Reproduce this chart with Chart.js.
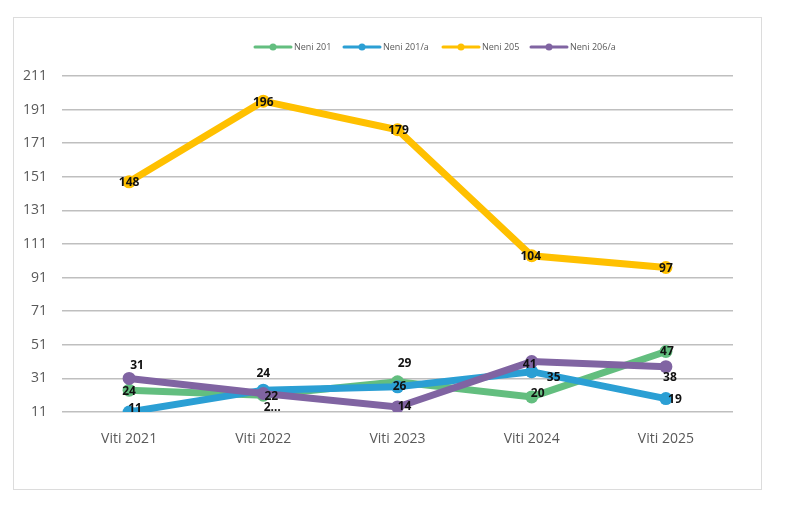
<!DOCTYPE html>
<html>
<head>
<meta charset="utf-8">
<script src="https://cdn.jsdelivr.net/npm/chart.js@4/dist/chart.umd.min.js"></script>
<style>
  html, body { margin: 0; padding: 0; background: #fff; }
  #wrap { position: relative; width: 794px; height: 506px; }
  #frame { position: absolute; left: 13px; top: 17px; width: 749px; height: 473px; border: 1px solid #dcdcdc; box-sizing: border-box; }
</style>
</head>
<body>
<div id="wrap">
  <div id="frame"></div>
  <canvas id="chart" width="794" height="506"></canvas>
</div>
<script>
const years = ['Viti 2021', 'Viti 2022', 'Viti 2023', 'Viti 2024', 'Viti 2025'];
const seriesNames = ['Neni 201', 'Neni 201/a', 'Neni 205', 'Neni 206/a'];
const neni201 = [24, 21, 29, 20, 47];
const neni201a = [11, 24, 26, 35, 19];
const neni205 = [148, 196, 179, 104, 97];
const neni206a = [31, 22, 14, 41, 38];
const yTicks = [11, 31, 51, 71, 91, 111, 131, 151, 171, 191, 211];

const colors = ['#63be7f', '#2b9fd4', '#ffc000', '#8064a2'];

// where each data label sits relative to its point (dx, dy in px)
const labelShift = [
    [[0, 1], [9, 12], [7, -18], [6, -3], [1, 0]],
    [[6, -3], [0, -17], [2, 0], [22, 6], [9, 1]],
    [[0, 1], [0, 1], [1, 1], [-1, 1], [0, 1]],
    [[8, -13], [8, 3], [7, 0], [-2, 3], [4, 11]]
];
// the 2022 label of Neni 201 is cut off in the original
const labelText = { '0-1': '2…' };

const dataLabels = {
    id: 'dataLabels',
    afterDatasetsDraw(chart) {
        const ctx = chart.ctx;
        ctx.save();
        ctx.font = 'bold 12px "Open Sans"';
        ctx.fillStyle = '#111';
        ctx.textAlign = 'center';
        ctx.textBaseline = 'middle';
        chart.data.datasets.forEach((ds, i) => {
            chart.getDatasetMeta(i).data.forEach((pt, j) => {
                const s = labelShift[i][j];
                const txt = labelText[i + '-' + j] || String(ds.data[j]);
                ctx.fillText(txt, pt.x + s[0], pt.y + s[1]);
            });
        });
        ctx.restore();
    }
};

const legendX = [255, 344, 443, 531];
const lineLegend = {
    id: 'lineLegend',
    afterDraw(chart) {
        const ctx = chart.ctx;
        const y = 47;
        ctx.save();
        ctx.font = '9px "Open Sans"';
        ctx.textBaseline = 'middle';
        chart.data.datasets.forEach((ds, i) => {
            const x = legendX[i];
            ctx.strokeStyle = ds.borderColor;
            ctx.lineWidth = 3;
            ctx.lineCap = 'round';
            ctx.beginPath();
            ctx.moveTo(x, y);
            ctx.lineTo(x + 36, y);
            ctx.stroke();
            ctx.fillStyle = ds.borderColor;
            ctx.beginPath();
            ctx.arc(x + 18, y, 3.5, 0, Math.PI * 2);
            ctx.fill();
            ctx.fillStyle = '#595959';
            ctx.fillText(ds.label, x + 39, y + 0.5);
        });
        ctx.restore();
    }
};

const makeSet = (i, values, order) => ({
    label: seriesNames[i],
    data: values,
    borderColor: colors[i],
    backgroundColor: colors[i],
    borderWidth: 7,
    pointRadius: 6.5,
    pointHoverRadius: 6.5,
    pointBorderWidth: 0,
    tension: 0,
    order: order
});

new Chart(document.getElementById('chart'), {
    type: 'line',
    data: {
        labels: years,
        datasets: [
            makeSet(0, neni201, 3),
            makeSet(1, neni201a, 2),
            makeSet(2, neni205, 1),
            makeSet(3, neni206a, 0)
        ]
    },
    options: {
        responsive: false,
        animation: false,
        layout: { padding: { left: 5, right: 61, top: 76, bottom: 54 } },
        plugins: {
            legend: { display: false },
            tooltip: { enabled: false }
        },
        scales: {
            x: {
                offset: true,
                grid: { display: false },
                border: { display: false },
                ticks: { color: '#595959', font: { family: 'Open Sans', size: 14 }, padding: 11 },
                afterFit(scale) { scale.height = 40; }
            },
            y: {
                min: 11,
                max: 211,
                afterBuildTicks(scale) { scale.ticks = yTicks.map(v => ({ value: v })); },
                grid: { color: '#bfbfbf', lineWidth: 1.5, drawTicks: false },
                border: { display: false },
                ticks: { color: '#595959', font: { family: 'Open Sans', size: 14 }, padding: 15 },
                afterFit(scale) { scale.width = 57; }
            }
        }
    },
    plugins: [dataLabels, lineLegend]
});
</script>
</body>
</html>
